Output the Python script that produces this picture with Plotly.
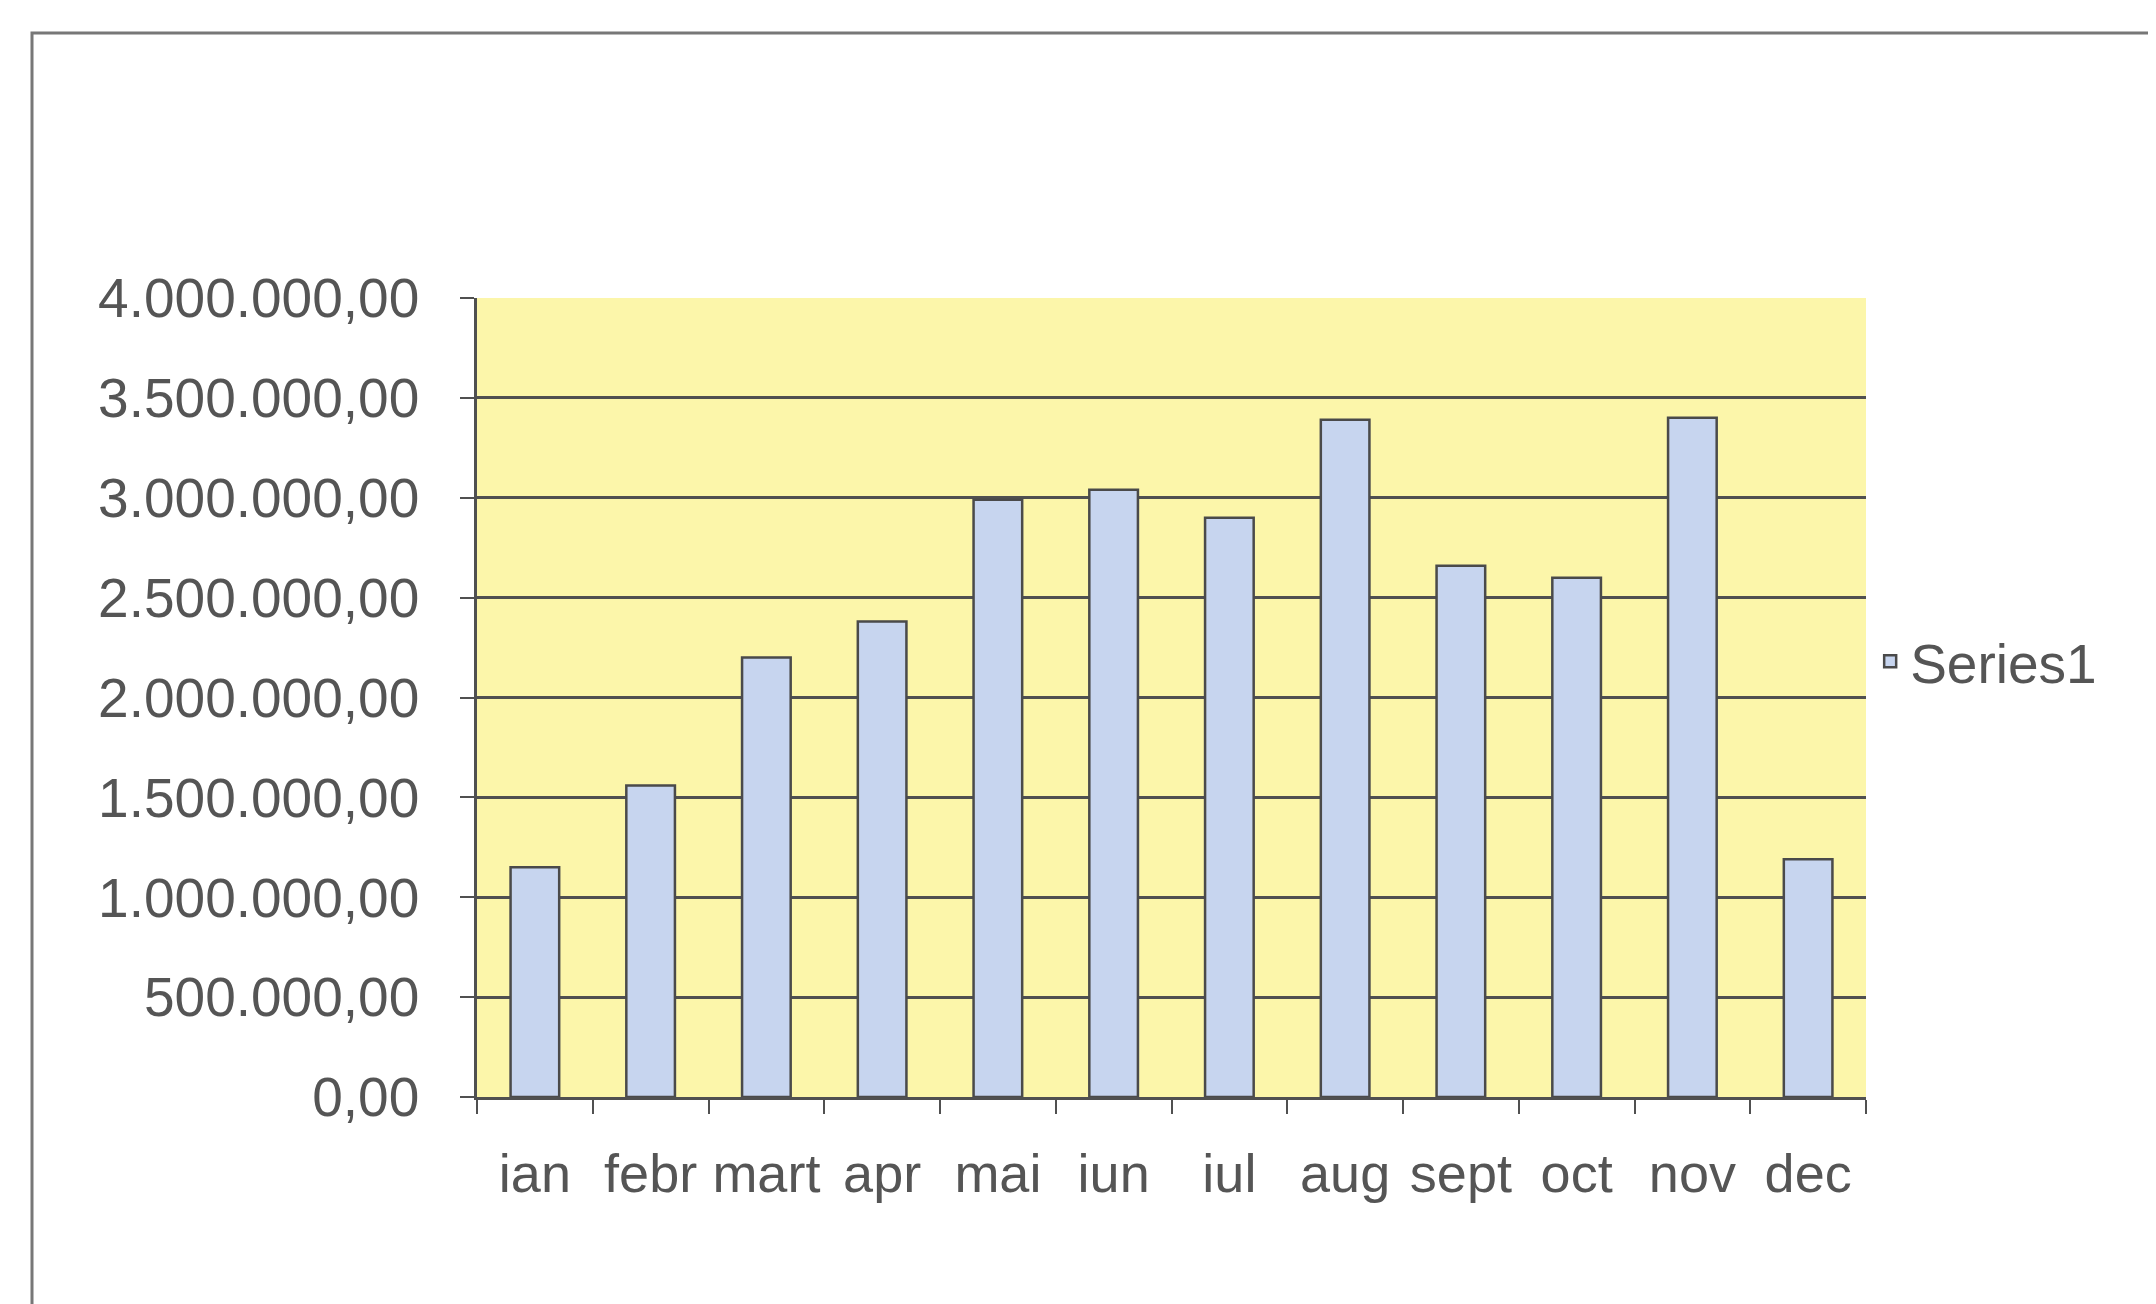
import plotly.graph_objects as go

months = ["ian", "febr", "mart", "apr", "mai", "iun", "iul", "aug", "sept", "oct", "nov", "dec"]
values = [1150000, 1560000, 2200000, 2380000, 2990000, 3040000, 2900000, 3390000, 2660000, 2600000, 3400000, 1190000]
series_name = "Series1"
y_ticks = [0, 500000, 1000000, 1500000, 2000000, 2500000, 3000000, 3500000, 4000000]

font_family = "Liberation Sans, Arial, sans-serif"
text_color = "#555555"
grid_color = "#505050"

L, R, T, B = 469, 298, 290, 215
W, H = 2156, 1304
pw, ph = W - L - R, H - T - B

fig = go.Figure()
fig.add_trace(go.Bar(
    x=months, y=values, name=series_name,
    marker=dict(color="#C7D5EF", line=dict(color="#4a4a4a", width=2.5)),
    showlegend=True,
))

fig.update_layout(
    width=W, height=H,
    margin=dict(l=L, r=R, t=T, b=B),
    paper_bgcolor="white",
    plot_bgcolor="#FCF6AA",
    separators=",.",
    bargap=0.58,
    font=dict(family=font_family, size=55, color=text_color),
    legend=dict(x=1.003, y=0.545, xanchor="left", yanchor="middle",
                font=dict(size=55, color=text_color), bgcolor="rgba(0,0,0,0)",
                tracegroupgap=0),
    xaxis=dict(
        type="category", showgrid=False, showline=True, linecolor=grid_color, linewidth=2.5,
        ticks="outside", tickson="boundaries", ticklen=14, tickcolor=grid_color, tickwidth=2,
        tickfont=dict(size=54, color=text_color), ticklabelstandoff=27, tickangle=0,
    ),
    yaxis=dict(
        range=[0, 4000000], tickvals=y_ticks, tickformat=",.2f",
        showgrid=True, gridcolor=grid_color, gridwidth=2.5,
        showline=True, linecolor=grid_color, linewidth=2.5,
        ticks="outside", ticklen=14, tickcolor=grid_color, tickwidth=2,
        zeroline=False, tickfont=dict(size=55, color=text_color), ticklabelstandoff=30,
    ),
    shapes=[
        dict(type="rect", xref="paper", yref="paper",
             x0=(24 - L) / pw, x1=(W - L + 20) / pw,
             y0=-(1299 - (H - B)) / ph, y1=((H - B) - 25) / ph,
             line=dict(color="#777777", width=3), fillcolor="rgba(0,0,0,0)", layer="below"),
    ],
)

fig.write_html("out.html")
